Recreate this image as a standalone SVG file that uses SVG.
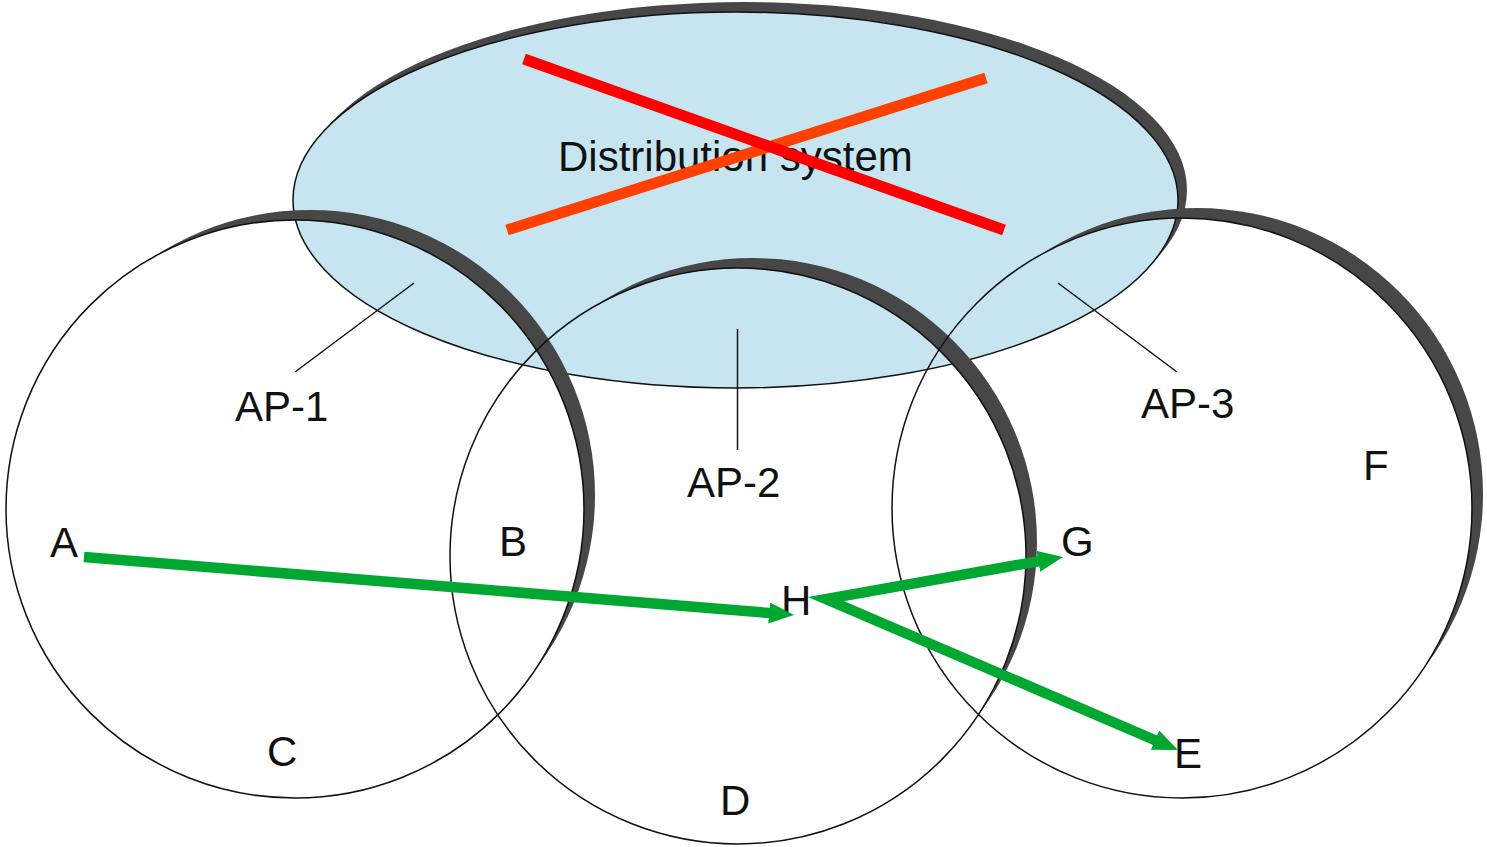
<svg xmlns="http://www.w3.org/2000/svg" width="1487" height="847" viewBox="0 0 1487 847">
<style>
  .lbl { font-family: "Liberation Sans", Arial, sans-serif; font-size: 42px; fill: #111; }
  .thin { fill: none; stroke: #111; stroke-width: 1.5; }
  .shadow { fill: #474747; }
  .lead { stroke: #111; stroke-width: 1.5; fill: none; }
  .flow { fill: none; stroke: #00a832; stroke-width: 10.5; stroke-linejoin: miter; stroke-miterlimit: 6; }
</style>
<defs>
  <marker id="ah" markerUnits="userSpaceOnUse" markerWidth="28" markerHeight="22" refX="4" refY="10.5" orient="auto-start-reverse" viewBox="0 0 28 22">
    <path d="M0,0 L25,10.5 L0,21 z" fill="#00a832"/>
  </marker>
  <mask id="m-ds" maskUnits="userSpaceOnUse" x="0" y="0" width="1487" height="847">
    <rect width="1487" height="847" fill="#fff"/>
    <ellipse cx="735.5" cy="200" rx="442.5" ry="188" fill="#000"/>
  </mask>
  <mask id="m-ap1" maskUnits="userSpaceOnUse" x="0" y="0" width="1487" height="847">
    <rect width="1487" height="847" fill="#fff"/>
    <circle cx="295" cy="509" r="289" fill="#000"/>
  </mask>
  <mask id="m-ap2" maskUnits="userSpaceOnUse" x="0" y="0" width="1487" height="847">
    <rect width="1487" height="847" fill="#fff"/>
    <circle cx="738" cy="556" r="288" fill="#000"/>
  </mask>
  <mask id="m-ap3" maskUnits="userSpaceOnUse" x="0" y="0" width="1487" height="847">
    <rect width="1487" height="847" fill="#fff"/>
    <circle cx="1182" cy="508" r="290" fill="#000"/>
  </mask>
</defs>
<rect width="1487" height="847" fill="#fff"/>

<g id="distribution-system">
  <ellipse class="shadow" cx="744.5" cy="190" rx="442.5" ry="188" mask="url(#m-ds)"/>
  <ellipse cx="735.5" cy="200" rx="442.5" ry="188" fill="#c6e5f0" stroke="#111" stroke-width="1.5"/>
  <text class="lbl" x="558" y="171">Distribution system</text>
</g>

<g id="cross">
  <line x1="507" y1="230" x2="986" y2="78" stroke="#ff4000" stroke-width="11"/>
  <line x1="524" y1="59" x2="1004" y2="230" stroke="#ff0000" stroke-width="11"/>
</g>

<g id="ap1">
  <circle class="shadow" cx="310" cy="495" r="285" mask="url(#m-ap1)"/>
  <circle class="thin" cx="295" cy="509" r="289"/>
  <line class="lead" x1="414" y1="283" x2="295" y2="372"/>
  <text class="lbl" x="235" y="421">AP-1</text>
</g>

<g id="ap2">
  <circle class="shadow" cx="753" cy="542" r="284" mask="url(#m-ap2)"/>
  <circle class="thin" cx="738" cy="556" r="288"/>
  <line class="lead" x1="737.5" y1="329" x2="737.5" y2="450"/>
  <text class="lbl" x="687" y="497">AP-2</text>
</g>

<g id="ap3">
  <circle class="shadow" cx="1197" cy="494" r="286" mask="url(#m-ap3)"/>
  <circle class="thin" cx="1182" cy="508" r="290"/>
  <line class="lead" x1="1058" y1="283" x2="1177" y2="372"/>
  <text class="lbl" x="1141" y="418">AP-3</text>
</g>

<g id="node-A"><text class="lbl" x="50" y="557">A</text></g>
<g id="node-B"><text class="lbl" x="499" y="556">B</text></g>
<g id="node-C"><text class="lbl" x="267" y="766">C</text></g>
<g id="node-D"><text class="lbl" x="720" y="815">D</text></g>
<g id="node-E"><text class="lbl" x="1174" y="768">E</text></g>
<g id="node-F"><text class="lbl" x="1363" y="480">F</text></g>
<g id="node-G"><text class="lbl" x="1061" y="556">G</text></g>
<g id="node-H"><text class="lbl" x="781" y="615">H</text></g>

<g id="connectors">
  <path class="flow" d="M84,557 L773.1,613.3" marker-end="url(#ah)"/>
  <path class="flow" d="M1042.3,560.6 L826,599 L1158.7,741.7" marker-start="url(#ah)" marker-end="url(#ah)"/>
</g>
</svg>
